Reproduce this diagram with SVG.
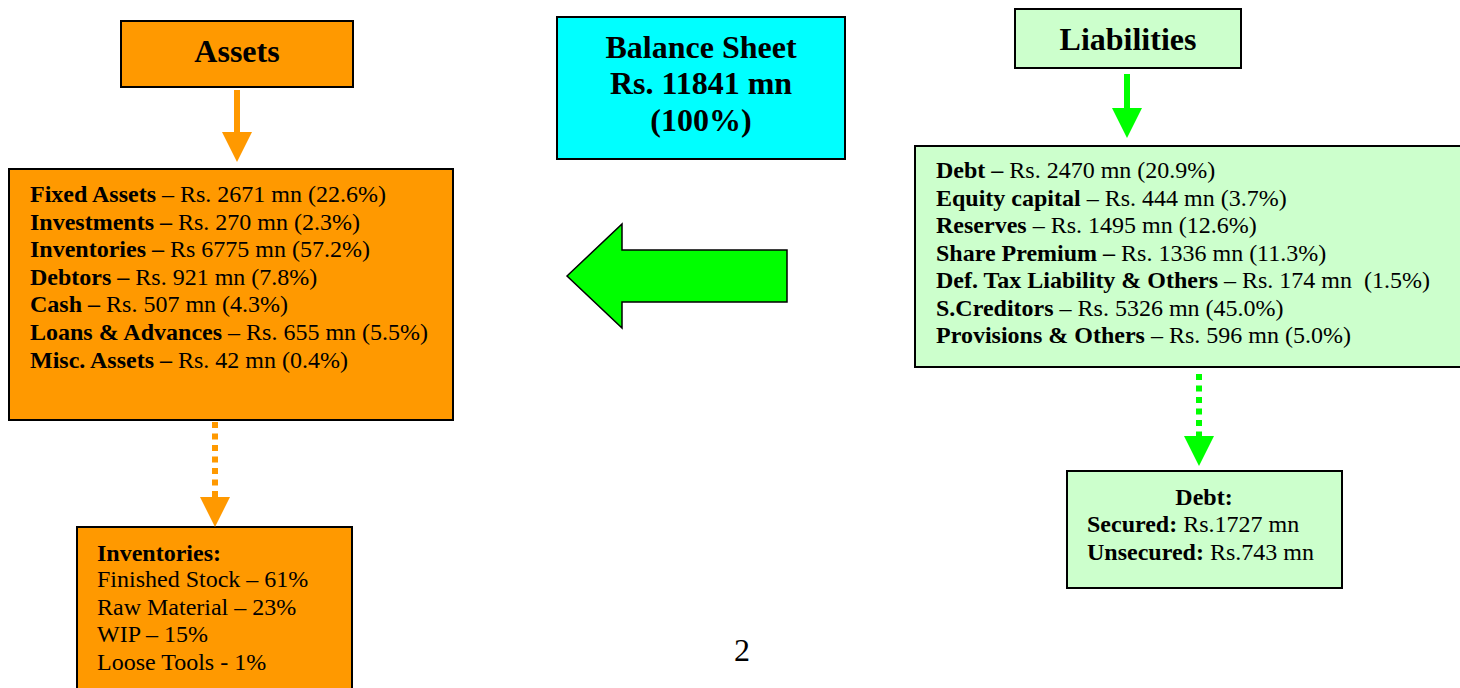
<svg xmlns="http://www.w3.org/2000/svg" width="1460" height="688" viewBox="0 0 1460 688">
<style>
text{font-family:"Liberation Serif","Times New Roman",serif;fill:#000}
.t{font-size:32px;font-weight:bold}
.b{font-size:24px}
.bd{font-weight:bold}
.box{stroke:#000;stroke-width:2}
.or{fill:#FF9900}
.gr{fill:#CCFFCC}
.cy{fill:#00FFFF}
.lo{stroke:#FF9900;stroke-width:6;fill:none}
.lg{stroke:#00FF00;stroke-width:6;fill:none}
.dot{stroke-dasharray:6 5.5}
</style>
<rect width="1460" height="688" fill="#fff"/>
<g id="assets">
<rect class="box or" x="121" y="21" width="232" height="66"/>
<text class="t" x="237" y="62" text-anchor="middle">Assets</text>
</g>
<g id="balance-sheet">
<rect class="box cy" x="557" y="17" width="288" height="142"/>
<text class="t" x="701" y="58" text-anchor="middle">Balance Sheet</text>
<text class="t" x="701" y="94" text-anchor="middle">Rs. 11841 mn</text>
<text class="t" x="701" y="131" text-anchor="middle">(100%)</text>
</g>
<g id="liabilities">
<rect class="box gr" x="1015" y="9" width="226" height="59"/>
<text class="t" x="1128" y="50" text-anchor="middle">Liabilities</text>
</g>
<g id="assets-detail">
<rect class="box or" x="9" y="169" width="444" height="251"/>
<text class="b" x="30" xml:space="preserve"><tspan y="202"><tspan class="bd">Fixed Assets</tspan> – Rs. 2671 mn (22.6%)</tspan><tspan x="30" y="229.5"><tspan class="bd">Investments –</tspan> Rs. 270 mn (2.3%)</tspan><tspan x="30" y="257"><tspan class="bd">Inventories –</tspan> Rs 6775 mn (57.2%)</tspan><tspan x="30" y="284.5"><tspan class="bd">Debtors –</tspan> Rs. 921 mn (7.8%)</tspan><tspan x="30" y="312"><tspan class="bd">Cash –</tspan> Rs. 507 mn (4.3%)</tspan><tspan x="30" y="340"><tspan class="bd">Loans &amp; Advances</tspan> – Rs. 655 mn (5.5%)</tspan><tspan x="30" y="367.5"><tspan class="bd">Misc. Assets –</tspan> Rs. 42 mn (0.4%)</tspan></text>
</g>
<g id="liabilities-detail">
<rect class="box gr" x="915" y="146" width="550" height="221"/>
<text class="b" x="936" xml:space="preserve"><tspan y="178"><tspan class="bd">Debt –</tspan> Rs. 2470 mn (20.9%)</tspan><tspan x="936" y="205.5"><tspan class="bd">Equity capital</tspan> – Rs. 444 mn (3.7%)</tspan><tspan x="936" y="233"><tspan class="bd">Reserves</tspan> – Rs. 1495 mn (12.6%)</tspan><tspan x="936" y="260.5"><tspan class="bd">Share Premium –</tspan> Rs. 1336 mn (11.3%)</tspan><tspan x="936" y="288"><tspan class="bd">Def. Tax Liability &amp; Others</tspan> – Rs. 174 mn  (1.5%)</tspan><tspan x="936" y="315.5"><tspan class="bd">S.Creditors</tspan> – Rs. 5326 mn (45.0%)</tspan><tspan x="936" y="343"><tspan class="bd">Provisions &amp; Others</tspan> – Rs. 596 mn (5.0%)</tspan></text>
</g>
<g id="inventories">
<rect class="box or" x="77" y="527" width="275" height="170"/>
<text class="b" x="97" xml:space="preserve"><tspan y="561" class="bd">Inventories:</tspan><tspan x="97" y="587">Finished Stock – 61%</tspan><tspan x="97" y="614.5">Raw Material – 23%</tspan><tspan x="97" y="642">WIP – 15%</tspan><tspan x="97" y="669.5">Loose Tools - 1%</tspan></text>
</g>
<g id="debt">
<rect class="box gr" x="1067" y="471" width="275" height="117"/>
<text class="b" xml:space="preserve"><tspan x="1204" y="505" text-anchor="middle" class="bd">Debt:</tspan><tspan x="1087" y="532"><tspan class="bd">Secured:</tspan> Rs.1727 mn</tspan><tspan x="1087" y="559.5"><tspan class="bd">Unsecured:</tspan> Rs.743 mn</tspan></text>
</g>
<g id="connectors">
<line class="lo" x1="237" y1="90" x2="237" y2="134"/>
<polygon points="222,132 252,132 237,162" fill="#FF9900"/>
<line class="lg" x1="1127" y1="74" x2="1127" y2="110"/>
<polygon points="1112,108 1142,108 1127,138" fill="#00FF00"/>
<line class="lo dot" x1="215" y1="422" x2="215" y2="498"/>
<polygon points="200,497 230,497 215,527" fill="#FF9900"/>
<line class="lg dot" x1="1199" y1="374" x2="1199" y2="437"/>
<polygon points="1184,436 1214,436 1199,466" fill="#00FF00"/>
<polygon points="567,276 622,224 622,250 787,250 787,302 622,302 622,328" fill="#00FF00" stroke="#000" stroke-width="1.5"/>
</g>
<text x="742" y="661" font-size="32" text-anchor="middle">2</text>
</svg>
